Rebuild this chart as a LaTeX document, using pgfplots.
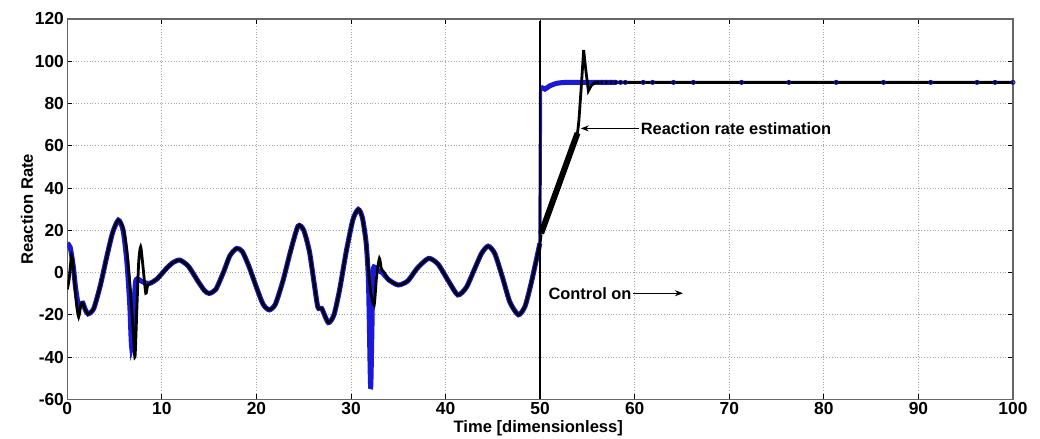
\documentclass[border=0pt]{standalone}
\usepackage{pgfplots}
\pgfplotsset{compat=1.18}
\usepackage{fontspec}
\setmainfont{Liberation Sans}
\usetikzlibrary{arrows.meta}
\definecolor{mblue}{RGB}{25,25,215}
\begin{document}
\begin{tikzpicture}
\begin{axis}[
 scale only axis, width=472.85pt, height=190.15pt,
 xmin=0, xmax=100, ymin=-60, ymax=120,
 xtick={0,10,...,100}, ytick={-60,-40,...,120},
 grid=major, major grid style={densely dotted, gray!70, line width=0.4pt},
 tick align=inside, major tick length=2.5pt,
 tick style={black, line width=0.5pt},
 axis line style={gray!80!black, line width=0.6pt},
 /pgf/number format/assume math mode=true,
 ticklabel style={font=\fontsize{8.7}{10}\selectfont\bfseries},
 xticklabel style={inner sep=1.5pt},
 yticklabel style={inner sep=1.5pt},
 xlabel={Time [dimensionless]}, ylabel={Reaction Rate},
 label style={font=\fontsize{8.3}{10}\selectfont\bfseries},
 xlabel style={at={(axis description cs:0.498,-0.0763)}, anchor=center},
 ylabel style={at={(axis description cs:-0.0426,0.5)}, anchor=center},
]
% true reaction rate (blue circles, dense band)
\addplot[mblue, line width=2.5pt, smooth, tension=0.4] coordinates {
(0,13.8)(0.3,12)(0.6,4)(0.9,-8)(1.2,-16)(1.45,-15)(1.65,-14.5)(1.9,-17.5)(2.2,-19.6)(2.8,-17)(3.5,-6)(4.2,8)(4.8,19)(5.4,24.8)(5.9,20)(6.3,5)(6.6,-15)(6.8,-35)(7.0,-20)(7.2,-5)(7.4,-3)(7.8,-4)(8.3,-5)(8.8,-5)(9.5,-3)(10.5,2)(11.2,4.8)(11.9,5.9)(12.8,3)(13.8,-4)(14.5,-8.5)(15.0,-9.9)(15.7,-8)(16.5,0)(17.2,8)(17.9,11.4)(18.5,10)(19.2,3)(20.0,-7)(20.7,-15)(21.35,-17.7)(22.0,-15)(22.8,-4)(23.6,10)(24.4,22)(25.0,20)(25.6,10)(26.1,-5)(26.5,-16.5)(26.9,-17)(27.6,-23.7)(28.2,-20)(28.8,-8)(29.5,10)(30.2,25)(30.77,29.9)(31.2,26)(31.6,14)(31.85,-5)(32.07,-54)(32.2,-30)(32.35,1.2)(32.8,1)(33.3,0)(34.0,-3.5)(35.0,-5.9)(36.0,-4)(37.0,2)(38.2,6.7)(39.2,4)(40.3,-4)(41.3,-10.6)(42.2,-7)(43.0,1)(43.8,9)(44.5,12.5)(45.2,9)(46.0,-2)(46.8,-14)(47.7,-20)(48.4,-16)(49.0,-6)(49.5,4)(49.97,13.8)};
\addplot[mblue, line width=1.6pt] coordinates {(49.97,13.8)(50.05,87.9)};
\addplot[mblue, line width=2.5pt, smooth, tension=0.4] coordinates {(50.05,87.9)(50.5,86.8)(51,88.3)(51.8,89.6)(53,90)(58,90)};
% estimation (black)
\addplot[black, line width=1.4pt, smooth, tension=0.4] coordinates {
(0,-8)(0.2,-3)(0.45,8)(0.7,0)(0.95,-14)(1.2,-21)(1.45,-15)(1.65,-14.5)(1.9,-17.5)(2.2,-19.6)(2.8,-17)(3.5,-6)(4.2,8)(4.8,19)(5.4,24.8)(5.9,21)(6.3,10)(6.7,-10)(7.0,-30)(7.16,-40)(7.35,-18)(7.55,5)(7.76,12.2)(8.0,3)(8.3,-9.8)(8.5,-6)(8.8,-5)(9.5,-3)(10.5,2)(11.2,4.8)(11.9,5.9)(12.8,3)(13.8,-4)(14.5,-8.5)(15.0,-9.9)(15.7,-8)(16.5,0)(17.2,8)(17.9,11.4)(18.5,10)(19.2,3)(20.0,-7)(20.7,-15)(21.35,-17.7)(22.0,-15)(22.8,-4)(23.6,10)(24.4,22)(25.0,20)(25.6,10)(26.1,-5)(26.5,-16.5)(26.9,-17)(27.6,-23.7)(28.2,-20)(28.8,-8)(29.5,10)(30.2,25)(30.77,29.9)(31.2,26)(31.6,14)(31.9,-2)(32.1,-9.7)(32.45,-15.4)(32.7,-2)(33.0,6.7)(33.2,2)(33.5,0)(34.0,-3.5)(35.0,-5.9)(36.0,-4)(37.0,2)(38.2,6.7)(39.2,4)(40.3,-4)(41.3,-10.6)(42.2,-7)(43.0,1)(43.8,9)(44.5,12.5)(45.2,9)(46.0,-2)(46.8,-14)(47.7,-20)(48.4,-16)(49.0,-6)(49.5,4)(49.97,13.8)(50.1,18)};
\addplot[black, line width=3pt] coordinates {(50.1,18.5)(53.95,66)};
\addplot[black, line width=1.4pt] coordinates {(53.9,64)(54.1,72)(54.35,88)(54.6,105.3)(54.85,95)(55.1,86)(55.4,88.5)(55.8,90)(100,90)};
% control on indicator
\addplot[black, line width=1pt] coordinates {(50,-60)(50,119)};
% sparse solver points
\addplot[only marks, mark=o, mark size=1pt, mark options={line width=0.5pt}, mblue!75!black] coordinates {(56.5,90)(57,90)(57.5,90)(58,90)(58.5,90)(59,90)(60.9,90)(61.9,90)(64.1,90)(66.2,90)(71.3,90)(76.3,90)(81.3,90)(86.3,90)(91.3,90)(96.2,90)(98.1,90)(100,90)};
% annotations
\draw[-{Stealth[length=4pt,width=3pt]}, line width=0.4pt] (axis cs:60.4,68.2) -- (axis cs:54.3,68.2);
\node[anchor=west, inner sep=0, font=\fontsize{8.2}{10}\selectfont\bfseries] at (axis cs:60.6,68.2) {Reaction rate estimation};
\node[anchor=east, inner sep=0, font=\fontsize{8.2}{10}\selectfont\bfseries] at (axis cs:59.7,-9.8) {Control on};
\draw[-{Stealth[length=4pt,width=3pt]}, line width=0.4pt] (axis cs:59.8,-9.8) -- (axis cs:65.1,-9.8);
\end{axis}
\pgfresetboundingbox
\useasboundingbox ([xshift=-33.65pt,yshift=-19.85pt]current axis.south west) rectangle ([xshift=13.5pt,yshift=9.5pt]current axis.north east);
\end{tikzpicture}
\end{document}
